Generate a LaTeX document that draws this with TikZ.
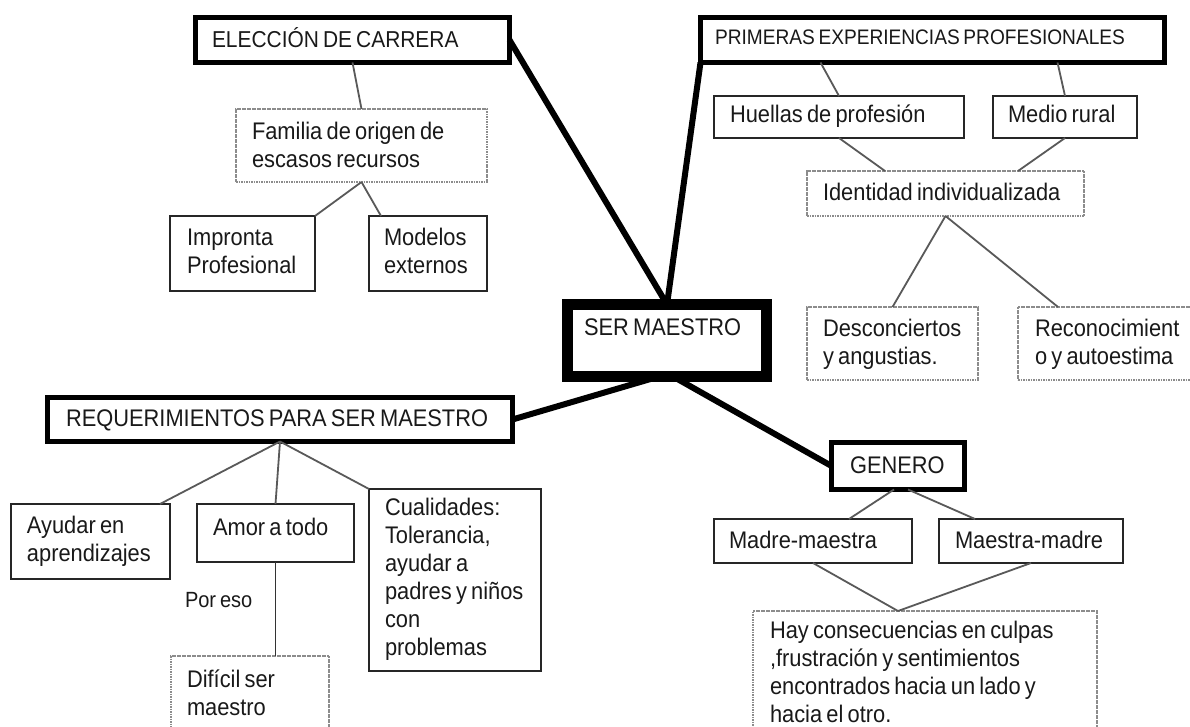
\documentclass[tikz,border=0pt]{standalone}
\usepackage{fontspec}
\setmainfont[FakeStretch=0.91,WordSpace=0.7]{Liberation Sans}
% text placed by its left edge and first baseline
\newcommand\boxtext[5][]{\node[txt,#1] (#2) at (#3,#4-23) {\rule{0pt}{23pt}#5};}
\begin{document}
\begin{tikzpicture}[x=1pt,y=-1pt,
  box/.style={draw, inner sep=0pt, outer sep=0pt, anchor=north west},
  heavy/.style={box, line width=5pt},
  core/.style={box, line width=11pt},
  plain/.style={box, draw=black!85, line width=2pt},
  dotbox/.style={box, draw=black!45, line width=1.5pt, dash pattern=on 1.6pt off 0.9pt},
  txt/.style={anchor=north west, inner sep=0pt, outer sep=0pt, align=left,
    font=\fontsize{24}{28}\selectfont, text=black!90},
  trunk/.style={line width=6pt, black},
  link/.style={line width=1.8pt, black!65},
]
\useasboundingbox (0,0) rectangle (1190,727);
\fill[white] (0,0) rectangle (1190,727);
\clip (0,0) rectangle (1190,727);

% frames
\node[heavy, minimum width=314pt, minimum height=45pt] (elec) at (195.5,17.5) {};
\node[heavy, minimum width=464pt, minimum height=45pt] (prim) at (700.5,17.5) {};
\node[core,  minimum width=199pt, minimum height=72pt] (ser)  at (567.5,304.5) {};
\node[heavy, minimum width=465pt, minimum height=44pt] (req)  at (47.5,397.5) {};
\node[heavy, minimum width=133pt, minimum height=47pt] (gen)  at (831.5,442.5) {};
\node[dotbox, minimum width=251pt, minimum height=73pt] (fami) at (236,109) {};
\node[plain,  minimum width=145pt, minimum height=75pt] (impr) at (170,216) {};
\node[plain,  minimum width=118pt, minimum height=75pt] (mode) at (369,216) {};
\node[plain,  minimum width=250pt, minimum height=42pt] (huel) at (714,96) {};
\node[plain,  minimum width=144pt, minimum height=42pt] (medi) at (993,96) {};
\node[dotbox, minimum width=277pt, minimum height=45pt] (iden) at (807,171) {};
\node[dotbox, minimum width=171pt, minimum height=73pt] (desc) at (807,307) {};
\node[dotbox, minimum width=182pt, minimum height=73pt] (reco) at (1018,307) {};
\node[plain,  minimum width=159pt, minimum height=75pt] (ayud) at (11,504) {};
\node[plain,  minimum width=157pt, minimum height=58pt] (amor) at (197,504) {};
\node[plain,  minimum width=172pt, minimum height=182pt] (cual) at (369,489) {};
\node[dotbox, minimum width=158pt, minimum height=89pt] (dific) at (171,656) {};
\node[plain,  minimum width=198pt, minimum height=44pt] (madr) at (714,519) {};
\node[plain,  minimum width=184pt, minimum height=44pt] (maes) at (939,519) {};
\node[dotbox, minimum width=344pt, minimum height=134pt] (hay) at (753,611) {};

% main branches
\draw[trunk] (elec.east) -- (ser.north);
\draw[trunk] (prim.south west) -- (ser.north);
\draw[trunk] ([xshift=-8pt]ser.south) -- (req.east);
\draw[trunk] ([xshift=6pt]ser.south) -- (gen.west);

% secondary links
\draw[link] (elec.south) -- (fami.north);
\draw[link] (fami.south) -- (impr.north east);
\draw[link] (fami.south) -- ([xshift=12pt]mode.north west);
\draw[link] ([xshift=120pt]prim.south west) -- (huel.north);
\draw[link] ([xshift=357pt]prim.south west) -- (medi.north);
\draw[link] (huel.south) -- ([xshift=78pt]iden.north west);
\draw[link] (medi.south) -- ([xshift=211pt]iden.north west);
\draw[link] (iden.south) -- (desc.north);
\draw[link] (iden.south) -- ([xshift=40pt]reco.north west);
\draw[link] (req.south) -- ([xshift=-10pt]ayud.north east);
\draw[link] (req.south) -- (amor.north);
\draw[link] (req.south) -- (cual.north west);
\draw[link, black!80] (amor.south) -- (amor.south |- dific.north);
\draw[link] ([xshift=-4pt]gen.south) -- ([xshift=-63pt]madr.north east);
\draw[link] ([xshift=10pt]gen.south) -- ([xshift=36pt]maes.north west);
\draw[link] (madr.south) -- ([xshift=-27pt]hay.north);
\draw[link] (maes.south) -- ([xshift=-27pt]hay.north);

% texts
\boxtext[font=\fontsize{23}{28}\selectfont]{t-elec}{212}{48}{ELECCIÓN DE CARRERA}
\boxtext[font=\fontsize{21}{28}\selectfont]{t-prim}{715}{45}{PRIMERAS EXPERIENCIAS PROFESIONALES}
\boxtext{t-ser}{584}{335}{SER MAESTRO}
\boxtext{t-req}{66}{426}{REQUERIMIENTOS PARA SER MAESTRO}
\boxtext{t-gen}{850}{473}{GENERO}
\boxtext{t-fami}{252}{140}{Familia de origen de\\escasos recursos}
\boxtext{t-impr}{187}{245}{Impronta\\Profesional}
\boxtext{t-mode}{384}{245}{Modelos\\externos}
\boxtext{t-huel}{730}{123}{Huellas de profesión}
\boxtext{t-medi}{1008}{123}{Medio rural}
\boxtext{t-iden}{823}{201}{Identidad individualizada}
\boxtext{t-desc}{823}{336}{Desconciertos\\y angustias.}
\boxtext{t-reco}{1035}{336}{Reconocimient\\o y autoestima}
\boxtext{t-ayud}{27}{533}{Ayudar en\\aprendizajes}
\boxtext{t-amor}{213}{535}{Amor a todo}
\boxtext{t-cual}{385}{515}{Cualidades:\\Tolerancia,\\ayudar a\\padres y niños\\con\\problemas}
\boxtext[font=\fontsize{22}{26}\selectfont]{t-poreso}{185}{607}{Por eso}
\boxtext{t-dific}{187}{687}{Difícil ser\\maestro}
\boxtext{t-madr}{729}{548}{Madre-maestra}
\boxtext{t-maes}{955}{548}{Maestra-madre}
\boxtext{t-hay}{770}{638}{Hay consecuencias en culpas\\,frustración y sentimientos\\encontrados hacia un lado y\\hacia el otro.}
\end{tikzpicture}
\end{document}
